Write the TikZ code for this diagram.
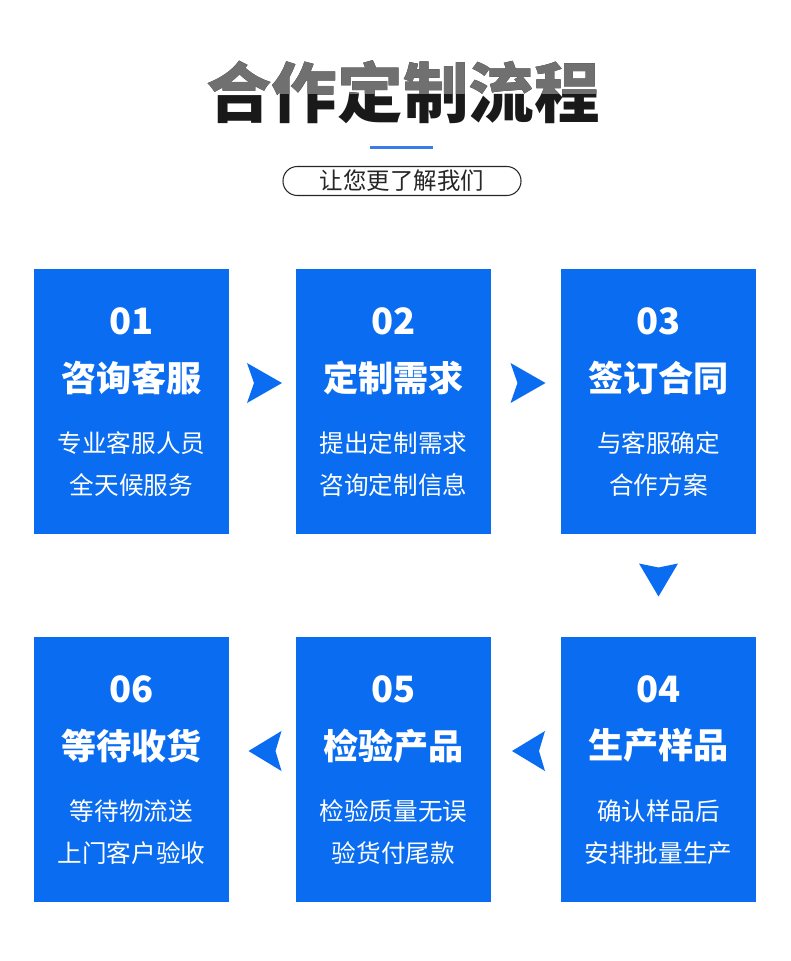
\documentclass[tikz,border=0pt]{standalone}
\usepackage{fontspec}
\setmainfont{Noto Sans CJK SC}
\usetikzlibrary{calc}
\definecolor{flowblue}{HTML}{0A6CF0}
\definecolor{titlegray}{HTML}{707070}
\definecolor{barblue}{HTML}{3B7BEA}
\tikzset{
  stepbox/.style={fill=flowblue, minimum width=5.85cm, minimum height=7.95cm, inner sep=0pt},
  stepnum/.style={text=white, font=\bfseries\fontsize{31}{31}\selectfont},
  stephead/.style={text=white, font=\bfseries\fontsize{30}{30}\selectfont},
  steptext/.style={text=white, font=\fontsize{21}{21}\selectfont},
  chevron/.style={fill=flowblue},
  headline/.style={font=\bfseries\fontsize{56}{56}\selectfont, inner sep=0pt}
}

\begin{document}
\begin{tikzpicture}[x=0.03cm, y=-0.03cm]
  \useasboundingbox[fill=white] (0,0) rectangle (790,961);
  % title, grey on top fading to black
  \node[headline, text=black!90] (title) at (403,92) {合作定制流程};
  \begin{scope}
    \clip (0,0) rectangle (790,94);
    \node[headline, text=titlegray] (titletop) at (403,92) {合作定制流程};
  \end{scope}
  \fill[barblue] (370,146) rectangle (433,149);
  \node[draw=black!85, line width=0.9pt, rounded corners=0.43cm,
    minimum width=7.14cm, minimum height=0.87cm, inner sep=0pt,
    text=black!85, font=\fontsize{20}{20}\selectfont] (sub) at (402,181) {让您更了解我们};

  % the six steps
  \foreach \idx/\px/\py/\head/\la/\lb in {
      01/131.5/401.5/咨询客服/专业客服人员/全天候服务,
      02/393.5/401.5/定制需求/提出定制需求/咨询定制信息,
      03/658.5/401.5/签订合同/与客服确定/合作方案,
      04/658.5/769.5/生产样品/确认样品后/安排批量生产,
      05/393.5/769.5/检验产品/检验质量无误/验货付尾款,
      06/131.5/769.5/等待收货/等待物流送/上门客户验收}{
    \node[stepbox] (b\idx) at (\px,\py) {};
    \node[stepnum] (num\idx) at ($(b\idx.north)+(0,53)$) {\idx};
    \node[stephead] (head\idx) at ($(b\idx.north)+(0,109)$) {\head};
    \node[steptext] (la\idx) at ($(b\idx.north)+(0,174)$) {\la};
    \node[steptext] (lb\idx) at ($(b\idx.north)+(0,216)$) {\lb};
  }

  % arrows between the steps
  \fill[chevron] ($(b01.east)!.5!(b02.west)+(0,-18.5)$)
    ++(-15.5,-20) -- ++(35,20) -- ++(-35,20) -- ++(7,-20) -- cycle;
  \fill[chevron] ($(b02.east)!.5!(b03.west)+(0,-18.5)$)
    ++(-15.5,-20) -- ++(35,20) -- ++(-35,20) -- ++(7,-20) -- cycle;
  \fill[chevron] ($(b03.south)!.5!(b04.north)$)
    ++(-19.5,-22) -- ++(19.5,33) -- ++(19.5,-33) -- ++(-19.5,4) -- cycle;
  \fill[chevron] ($(b05.east)!.5!(b04.west)+(0,-18.5)$)
    ++(19,-20) -- ++(-33,20) -- ++(33,20) -- ++(-6,-20) -- cycle;
  \fill[chevron] ($(b06.east)!.5!(b05.west)+(0,-18.5)$)
    ++(19,-20) -- ++(-33,20) -- ++(33,20) -- ++(-6,-20) -- cycle;
\end{tikzpicture}
\end{document}
